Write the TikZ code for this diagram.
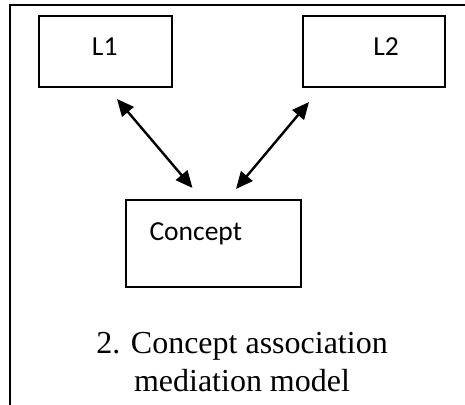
\documentclass[tikz,border=0pt]{standalone}
\usepackage{fontspec}
\setmainfont{Liberation Serif}
\newfontfamily\boxfont{Carlito}
\usetikzlibrary{arrows.meta}

\tikzset{
  box/.style={draw, line width=1.5pt, inner sep=0pt, minimum width=#1},
  box/.default=133pt,
  boxlabel/.style={anchor=base, inner sep=0pt, font=\boxfont\fontsize{27.5}{32}\selectfont},
  link/.style={line width=2.4pt,
    {Triangle[length=17pt,width=15pt]}-{Triangle[length=17pt,width=15pt]}},
  caption/.style={anchor=base, inner sep=0pt, align=center,
    font=\fontsize{32}{38}\selectfont}
}

\begin{document}
\begin{tikzpicture}[x=1pt, y=-1pt]
  \useasboundingbox (0,0) rectangle (465,404);

  % open frame: left and top edges only
  \draw[line width=2pt] (10,410) -- (10,5) -- (470,5);

  % language boxes and the shared concept box
  \node[box=133pt, minimum height=71pt] (l1) at (105.5,51.5) {};
  \node[box=142pt, minimum height=71pt] (l2) at (374,51.5) {};
  \node[box=175pt, minimum height=87pt] (concept) at (213.5,243.5) {};

  \node[boxlabel] (l1txt) at (104.7,55.7) {L1};
  \node[boxlabel] (l2txt) at (386,55.7) {L2};
  \node[boxlabel] (concepttxt) at (195.8,240) {Concept};

  % arrow ends in the gaps between the boxes
  \coordinate (l1end) at (117,99);
  \coordinate (c1end) at (192.5,188);
  \coordinate (l2end) at (309,102);
  \coordinate (c2end) at (236,189);

  \draw[link] (l1end) -- (c1end);
  \draw[link] (l2end) -- (c2end);

  % two-line caption; the base anchor sits on the last line
  \node[caption] (cap) at (242,391) {2. Concept association\\mediation model};
\end{tikzpicture}
\end{document}
